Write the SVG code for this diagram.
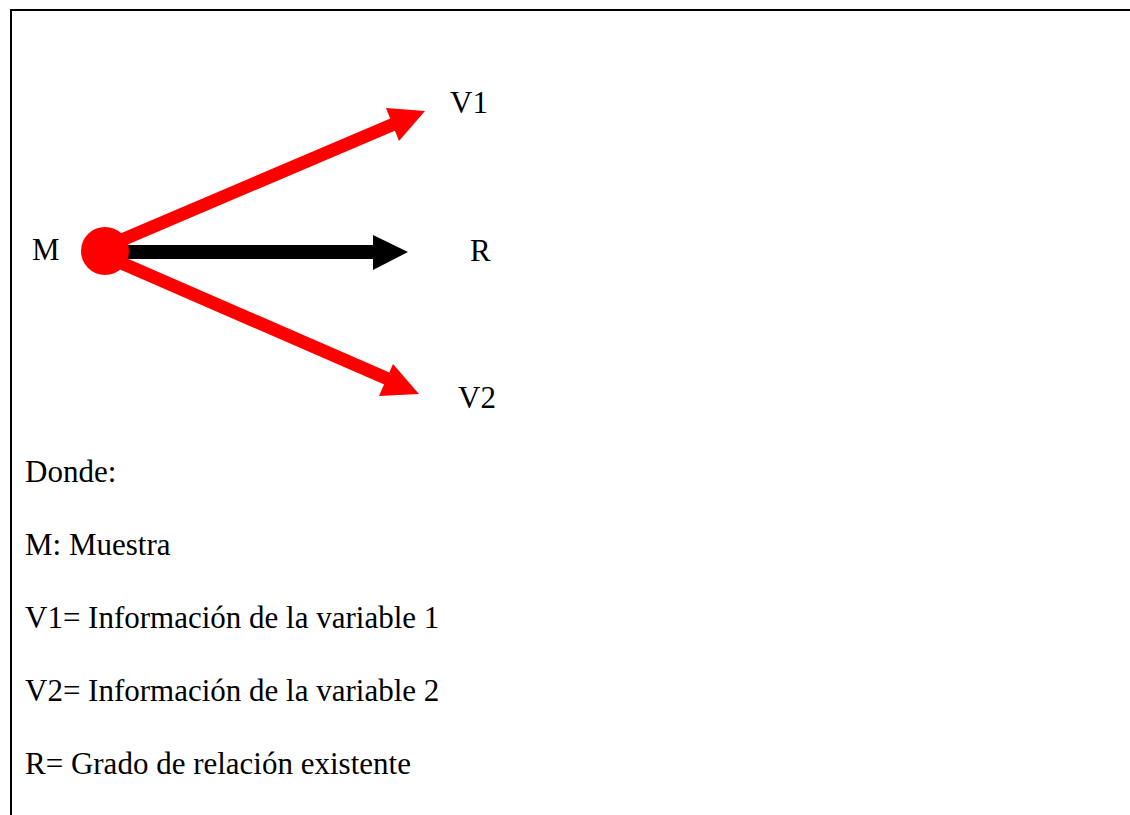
<svg xmlns="http://www.w3.org/2000/svg" width="1130" height="815" viewBox="0 0 1130 815">
<style>
.t{font-family:"Liberation Serif","Times New Roman",serif;font-size:31px;fill:#000}
.red{stroke:#ff0000;stroke-width:13;fill:none}
.blk{stroke:#000;stroke-width:14;fill:none}
</style>
<rect width="1130" height="815" fill="#fff"/>
<g id="frame">
<path d="M11 815 V10 H1130" fill="none" stroke="#000" stroke-width="2"/>
</g>
<g id="connectors">
<line class="red" x1="110" y1="245" x2="394" y2="124"/>
<polygon points="386,108 425,111 399,141" fill="#ff0000"/>
<line class="red" x1="110" y1="258" x2="388" y2="379"/>
<polygon points="393,364 419,394 379,396" fill="#ff0000"/>
<line class="blk" x1="120" y1="252" x2="376" y2="252"/>
<polygon points="373,235 408,252 373,270" fill="#000"/>
</g>
<g id="node-M">
<circle cx="105" cy="251" r="24" fill="#ff0000"/>
<text class="t" x="32" y="260">M</text>
</g>
<g id="node-V1"><text class="t" x="450" y="113">V1</text></g>
<g id="node-R"><text class="t" x="470" y="261">R</text></g>
<g id="node-V2"><text class="t" x="458" y="408">V2</text></g>
<g id="legend">
<text class="t" x="25" y="482">Donde:</text>
<text class="t" x="25" y="555">M: Muestra</text>
<text class="t" x="25" y="628">V1= Información de la variable 1</text>
<text class="t" x="25" y="701">V2= Información de la variable 2</text>
<text class="t" x="25" y="774">R= Grado de relación existente</text>
</g>
</svg>
